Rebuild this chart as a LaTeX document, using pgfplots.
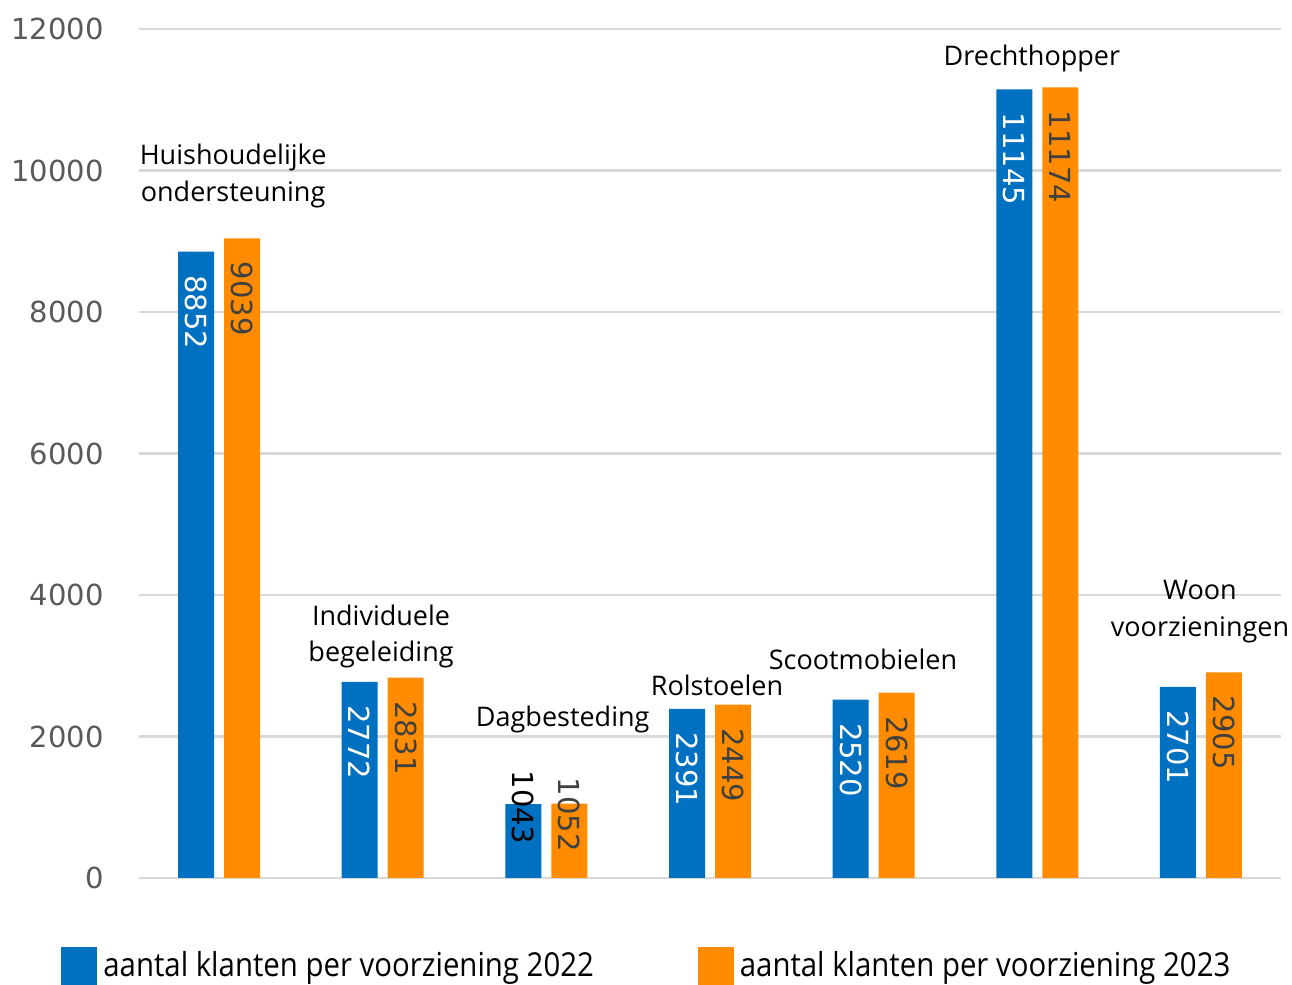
\documentclass[border=0pt]{standalone}
\usepackage{fontspec}
\setmainfont{Open Sans}
\newfontfamily\tickfont{DejaVu Sans}
\newfontfamily\legfont{Open Sans}[FakeStretch=0.89]
\usepackage{pgfplots}
\usepackage{pgfplotstable}
\pgfplotsset{compat=1.18}

\definecolor{barblue}{HTML}{0070C0}
\definecolor{barorange}{HTML}{FF8C00}
\definecolor{gridgray}{HTML}{D9D9D9}
\definecolor{tickgray}{HTML}{595959}
\definecolor{labgray}{HTML}{404040}

% x = category index, off = label offset below bar top (pt), c = label colour (0 white, 1 black, 2 gray)
\pgfplotstableread{
x y off c
0 8852 11.5 0
1 2772 11.5 0
2 1043 -17 1
3 2391 11.5 0
4 2520 11.5 0
5 11145 11.5 0
6 2701 11.5 0
}\tblA
\pgfplotstableread{
x y off c
0 9039 11.5 2
1 2831 11.5 2
2 1052 -13 2
3 2449 11.5 2
4 2619 11.5 2
5 11174 11.5 2
6 2905 11.5 2
}\tblB

\begin{document}
\begin{tikzpicture}
\useasboundingbox (-69.5pt,-53.5pt) rectangle (576.5pt,439pt);
\begin{axis}[
  at={(0,0)}, anchor=south west,
  scale only axis, width=571pt, height=424.5pt,
  xmin=-0.489, xmax=6.489, ymin=0, ymax=12000,
  ytick={0,2000,...,12000}, xtick=\empty,
  scaled y ticks=false,
  /pgf/number format/1000 sep={},
  /pgf/number format/assume math mode=true,
  axis line style={draw=none},
  major tick length=0pt,
  ymajorgrids, grid style={gridgray, line width=1.3pt},
  yticklabel style={font=\tickfont\fontsize{14.5}{16}\selectfont, text=tickgray, inner sep=0pt, xshift=-17.5pt},
  ybar, bar width=18pt,
  clip=false,
  nodes near coords={\pgfmathtruncatemacro\ci{\labc}%
    \ifcase\ci\color{white}\or\color{black}\else\color{labgray}\fi
    \pgfmathprintnumber{\pgfplotspointmeta}},
  visualization depends on={\thisrow{off} \as \laboff},
  visualization depends on={\thisrow{c} \as \labc},
  every node near coord/.append style={font=\tickfont\fontsize{14.5}{16}\selectfont, inner sep=0pt,
    yshift=-\laboff pt, rotate=-90, anchor=west},
  legend columns=2,
  legend style={at={(axis description cs:0,0)}, anchor=north west, xshift=-39pt, yshift=-34.5pt,
    draw=none, fill=none, inner sep=0pt, font=\legfont\fontsize{16.5}{18}\selectfont,
    nodes={inner sep=0pt},
    /tikz/every odd column/.append style={column sep=3pt},
    /tikz/every even column/.append style={column sep=52pt}},
  legend cell align=left,
  legend image code/.code={\fill[#1, draw=none] (0pt,-14pt) rectangle (18pt,9pt);},
]
\addplot[fill=barblue, draw=none, bar shift=-11.5pt] table[x=x, y=y] {\tblA};
\addlegendentry{aantal klanten per voorziening 2022}
\addplot[fill=barorange, draw=none, bar shift=11.5pt] table[x=x, y=y] {\tblB};
\addlegendentry{aantal klanten per voorziening 2023}

\begin{scope}[every node/.style={font=\fontsize{13.5}{18.3}\selectfont, align=center, text=black}]
\node at (axis cs:0.086,9923) {Huishoudelijke\\ondersteuning};
\node at (axis cs:0.99,3413) {Individuele\\begeleiding};
\node at (axis cs:2.10,2240) {Dagbesteding};
\node at (axis cs:3.043,2728) {Rolstoelen};
\node at (axis cs:3.935,3095) {Scootmobielen};
\node at (axis cs:4.967,11590) {Drechthopper};
\node at (axis cs:5.994,3761) {Woon\\voorzieningen};
\end{scope}
\end{axis}
\end{tikzpicture}
\end{document}
